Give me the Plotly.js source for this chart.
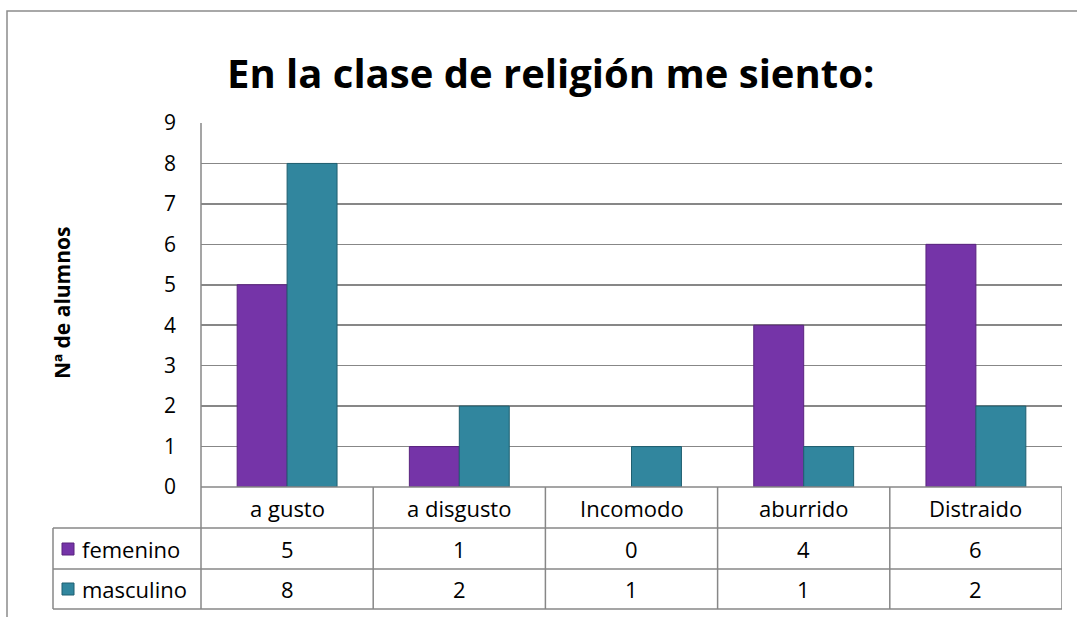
<!DOCTYPE html>
<html>
<head>
<meta charset="utf-8">
<script src="https://cdn.plot.ly/plotly-3.0.1.min.js"></script>
<style>html,body{margin:0;padding:0;background:#fff;}#chart{width:1077px;height:617px;}</style>
</head>
<body>
<div id="chart"></div>
<script>
const categories = ['a gusto', 'a disgusto', 'Incomodo', 'aburrido', 'Distraido'];
const femenino = [5, 1, 0, 4, 6];
const masculino = [8, 2, 1, 1, 2];
const seriesNames = ['femenino', 'masculino'];
const chartTitle = 'En la clase de religión me siento:';
const yTitle = 'Nª de alumnos';
const yTicks = [0, 1, 2, 3, 4, 5, 6, 7, 8, 9];

const FONT = 'Open Sans, Noto Sans, sans-serif';
const colors = ['#7534A8', '#31869E'];
const lineColors = ['#5A237F', '#1F5F70'];

const W = 1077, H = 617;
const L = 201, R = 1062, T = 123, B = 487;
const pw = R - L, ph = B - T;
const px = x => (x - L) / pw;
const py = y => (B - y) / ph;

const traces = [femenino, masculino].map((vals, i) => ({
  type: 'bar',
  x: categories.map((c, k) => k),
  y: vals,
  name: seriesNames[i],
  marker: {color: colors[i], line: {color: lineColors[i], width: vals.map(v => v > 0 ? 1 : 0)}},
  hoverinfo: 'skip'
}));

const grey = '#878787';
const TL = 53;
const shapes = [];
shapes.push({type: 'rect', xref: 'paper', yref: 'paper', x0: px(7), x1: px(1090), y0: py(11), y1: py(640), line: {color: '#8c8c8c', width: 1.5}, fillcolor: 'rgba(0,0,0,0)', layer: 'below'});
shapes.push({type: 'line', xref: 'paper', yref: 'paper', x0: px(L), x1: px(R), y0: py(487), y1: py(487), line: {color: grey, width: 1.5}});
[528, 569, 609].forEach(yy => shapes.push({type: 'line', xref: 'paper', yref: 'paper', x0: px(TL), x1: px(R), y0: py(yy), y1: py(yy), line: {color: grey, width: 1.5}}));
shapes.push({type: 'line', xref: 'paper', yref: 'paper', x0: px(TL), x1: px(TL), y0: py(528), y1: py(609), line: {color: grey, width: 1.5}});
shapes.push({type: 'line', xref: 'paper', yref: 'paper', x0: px(L), x1: px(L), y0: py(T), y1: py(609), line: {color: grey, width: 1.5}});
categories.forEach((c, k) => {
  shapes.push({type: 'line', xref: 'x', yref: 'paper', x0: k + 0.5, x1: k + 0.5, y0: py(487), y1: py(609), line: {color: grey, width: 1.5}});
});
// legend keys in the data table
[549, 589].forEach((yy, i) => {
  shapes.push({type: 'rect', xref: 'paper', yref: 'paper', x0: px(62), x1: px(74), y0: py(yy - 6), y1: py(yy + 6), fillcolor: colors[i], line: {color: lineColors[i], width: 1}});
});

const annotations = [];
annotations.push({text: '<b>' + chartTitle + '</b>', xref: 'paper', yref: 'paper', x: px(550), y: py(72), showarrow: false, font: {family: FONT, size: 40, color: '#000'}, xanchor: 'center', yanchor: 'middle'});
annotations.push({text: '<b>' + yTitle + '</b>', xref: 'paper', yref: 'paper', x: px(62), y: py(303), showarrow: false, textangle: -90, font: {family: FONT, size: 21, color: '#000'}, xanchor: 'center', yanchor: 'middle'});
categories.forEach((c, k) => {
  annotations.push({text: c, xref: 'x', yref: 'paper', x: k, y: py(508), showarrow: false, font: {family: FONT, size: 22, color: '#000'}, xanchor: 'center', yanchor: 'middle'});
  annotations.push({text: String(femenino[k]), xref: 'x', yref: 'paper', x: k, y: py(549), showarrow: false, font: {family: FONT, size: 22, color: '#000'}, xanchor: 'center', yanchor: 'middle'});
  annotations.push({text: String(masculino[k]), xref: 'x', yref: 'paper', x: k, y: py(589), showarrow: false, font: {family: FONT, size: 22, color: '#000'}, xanchor: 'center', yanchor: 'middle'});
});
[549, 589].forEach((yy, i) => {
  annotations.push({text: seriesNames[i], xref: 'paper', yref: 'paper', x: px(80), y: py(yy), showarrow: false, font: {family: FONT, size: 22, color: '#000'}, xanchor: 'left', yanchor: 'middle'});
});

const layout = {
  width: W, height: H,
  margin: {l: L, r: W - R, t: T, b: H - B, pad: 0},
  paper_bgcolor: '#fff', plot_bgcolor: '#fff',
  barmode: 'group', bargap: 0.42, bargroupgap: 0,
  showlegend: false,
  xaxis: {range: [-0.5, categories.length - 0.5], showticklabels: false, showgrid: false, zeroline: false, showline: false, ticks: '', fixedrange: true},
  yaxis: {range: [0, 9], tickvals: yTicks, ticktext: yTicks.map(String), showgrid: true, gridcolor: grey, gridwidth: 1.5, zeroline: false, showline: false, ticks: '', ticklabelstandoff: 24, tickfont: {family: FONT, size: 21, color: '#000'}, fixedrange: true},
  shapes: shapes,
  annotations: annotations
};

Plotly.newPlot('chart', traces, layout, {displayModeBar: false, staticPlot: true});
</script>
</body>
</html>
